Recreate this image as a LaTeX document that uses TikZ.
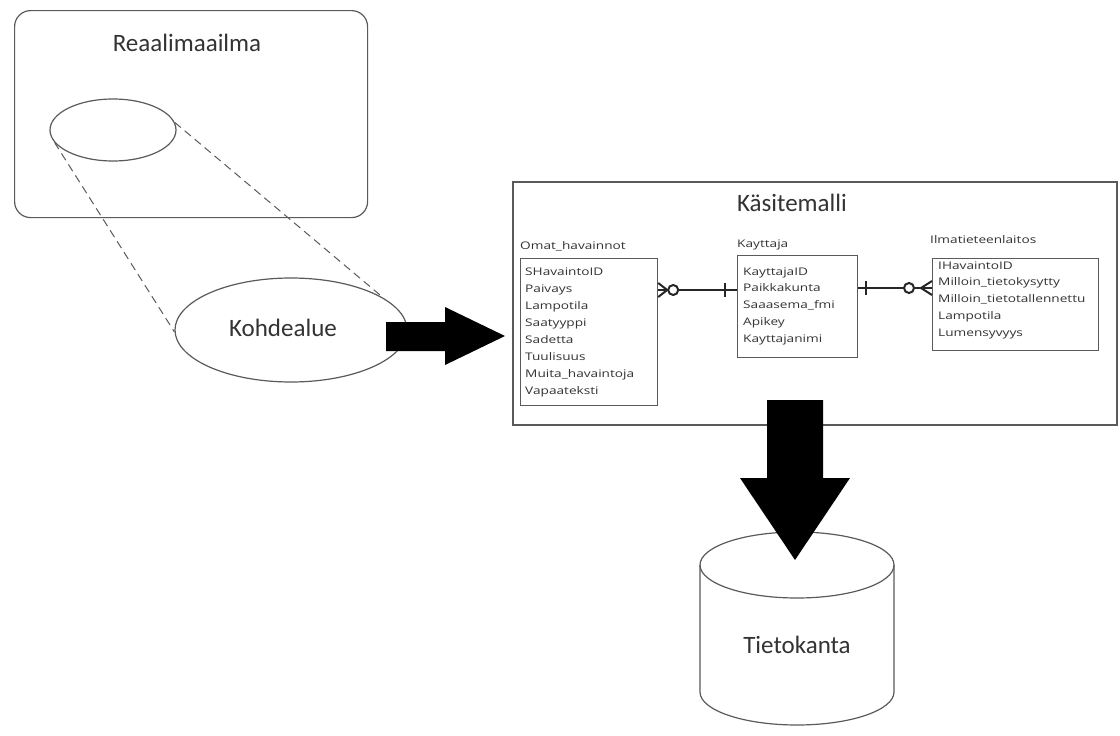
\documentclass[tikz,border=0pt]{standalone}
\usepackage{fontspec}
\setmainfont{Carlito}
\newfontfamily\attrfont[FakeStretch=1.3]{Open Sans}
\usetikzlibrary{shapes.geometric}
\definecolor{frame}{HTML}{5A5A5A}
\definecolor{txt}{HTML}{333333}
\tikzset{
  big/.style={font=\fontsize{25}{30}\selectfont, text=txt, inner sep=0pt},
  attr/.style={font=\attrfont\fontsize{10.5}{13}\selectfont, text=txt, inner sep=0pt, anchor=base west},
  entbox/.style={draw=frame, line width=1.2pt, anchor=north west, inner sep=0pt},
  rel/.style={line width=2pt, draw=black!85},
  dashline/.style={draw=frame, line width=1pt, dash pattern=on 8pt off 5pt},
  blockarrow/.style={fill=black, draw=none},
}
\begin{document}
\begin{tikzpicture}[x=1pt,y=1pt]
\useasboundingbox (0,0) rectangle (1120,-736);
\fill[white] (0,0) rectangle (1120,-736);

% Real world
\node[draw=frame, line width=1.2pt, rounded corners=16pt, minimum width=353pt, minimum height=207pt, anchor=north west, inner sep=0pt] (real) at (14,-10) {};
\node[big] (realt) at (187,-43) {Reaalimaailma};
\node[ellipse, draw=frame, line width=1.2pt, minimum width=126pt, minimum height=62pt, inner sep=0pt] (small) at (113,-130) {};
\node[ellipse, draw=frame, line width=1.2pt, minimum width=232pt, minimum height=104pt, inner sep=0pt] (kohde) at (291,-330) {};
\node[big] (kohdet) at (283,-328) {Kohdealue};
\draw[dashline] (small.192) -- (kohde.181);
\draw[dashline] (small.7) -- (kohde.19);

% right block arrow
\fill[blockarrow] (386,-322) -- (445,-322) -- (445,-307) -- (505,-336) -- (445,-365) -- (445,-351) -- (386,-351) -- cycle;

% Kasitemalli
\node[draw=frame, line width=1.5pt, minimum width=604pt, minimum height=243pt, anchor=north west, inner sep=0pt] (kasite) at (512,-181) {};
\node[big] (kasitet) at (792,-203) {Käsitemalli};

% entities
\node[entbox, minimum width=137pt, minimum height=147pt] (omat) at (520,-258) {};
\node[entbox, minimum width=120pt, minimum height=102pt] (kay) at (737,-255) {};
\node[entbox, minimum width=166pt, minimum height=92pt] (ilma) at (932,-258) {};

\node[attr] (omatl) at (520,-249) {Omat\_havainnot};
\node[attr] (kayl) at (737,-247) {Kayttaja};
\node[attr] (ilmal) at (930,-243) {Ilmatieteenlaitos};

\foreach \t [count=\i from 0] in {SHavaintoID,Paivays,Lampotila,Saatyyppi,Sadetta,Tuulisuus,Muita\_havaintoja,Vapaateksti}
  \node[attr] (o\i) at (525,{-(275+17*\i)}) {\t};
\foreach \t [count=\i from 0] in {KayttajaID,Paikkakunta,Saaasema\_fmi,Apikey,Kayttajanimi}
  \node[attr] (k\i) at (743,{-(275+16.8*\i)}) {\t};
\foreach \t [count=\i from 0] in {IHavaintoID,Milloin\_tietokysytty,Milloin\_tietotallennettu,Lampotila,Lumensyvyys}
  \node[attr] (m\i) at (938,{-(269+16.8*\i)}) {\t};

% relationship 1: omat (many, optional) -- kay (one)
\coordinate (r1s) at (omat.east |- 0,-290);
\coordinate (r1e) at (kay.west |- 0,-290);
\coordinate (r1c) at ([xshift=15pt]r1s);
\draw[rel] ([yshift=7pt]r1s) -- ([xshift=9pt]r1s) -- ([yshift=-7pt]r1s);
\draw[rel] (r1s) -- ([xshift=-5pt]r1c);
\draw[rel] (r1c) circle[radius=5pt];
\draw[rel] ([xshift=5pt]r1c) -- (r1e);
\draw[rel] ([xshift=-12pt,yshift=7pt]r1e) -- ([xshift=-12pt,yshift=-7pt]r1e);

% relationship 2: kay (one) -- ilma (many, optional)
\coordinate (r2s) at (kay.east |- 0,-288);
\coordinate (r2e) at (ilma.west |- 0,-288);
\coordinate (r2c) at ([xshift=-23pt]r2e);
\draw[rel] (r2s) -- ([xshift=-5pt]r2c);
\draw[rel] ([xshift=8pt,yshift=7pt]r2s) -- ([xshift=8pt,yshift=-7pt]r2s);
\draw[rel] (r2c) circle[radius=5pt];
\draw[rel] ([xshift=5pt]r2c) -- (r2e);
\draw[rel] ([yshift=7pt]r2e) -- ([xshift=-11pt]r2e) -- ([yshift=-7pt]r2e);

% database cylinder
\filldraw[draw=frame, fill=white, line width=1.2pt] (700,-565) -- (700,-692) arc[start angle=180, end angle=360, x radius=97pt, y radius=33pt] -- (894,-565);
\draw[draw=frame, line width=1.2pt] (797,-565) ellipse[x radius=97pt, y radius=33pt];
\node[big] (db) at (797,-645) {Tietokanta};

% down block arrow
\fill[blockarrow] (767,-400) -- (823,-400) -- (823,-478) -- (850,-478) -- (795,-560) -- (740,-478) -- (767,-478) -- cycle;
\end{tikzpicture}
\end{document}
